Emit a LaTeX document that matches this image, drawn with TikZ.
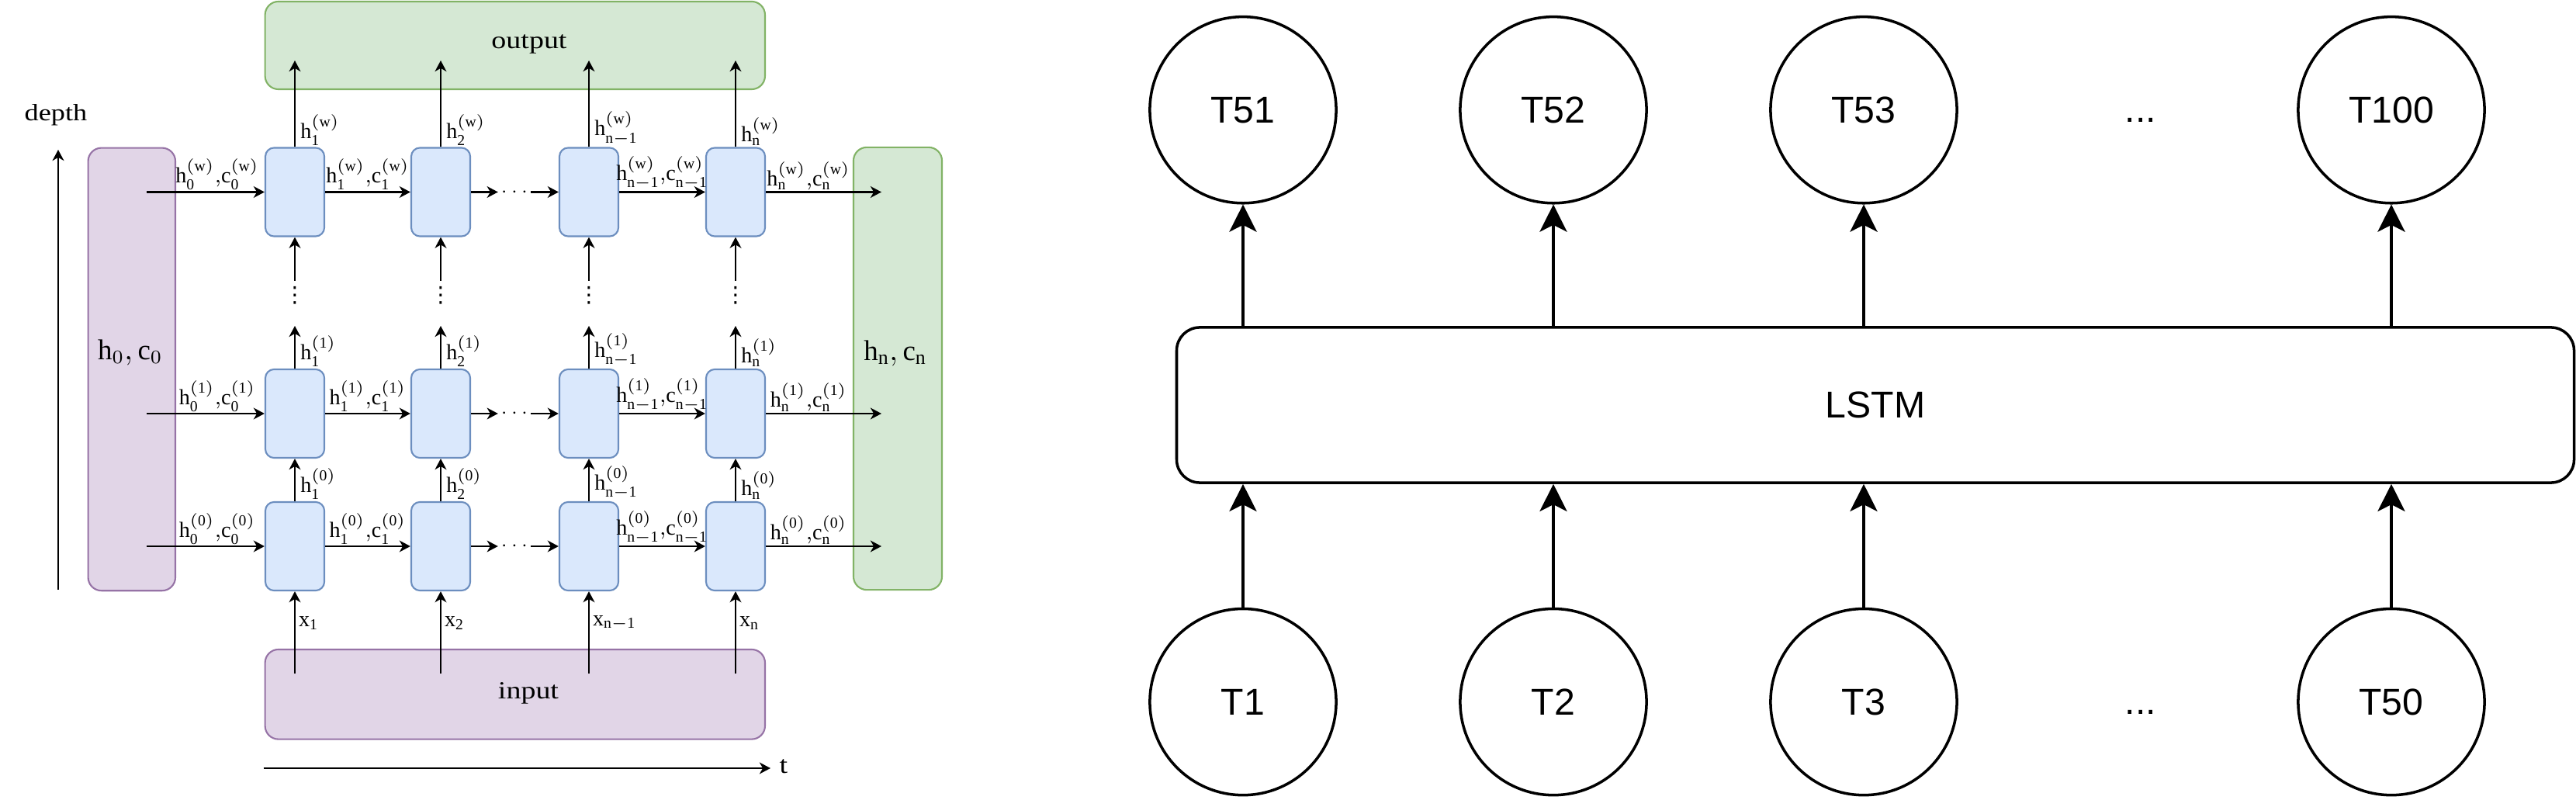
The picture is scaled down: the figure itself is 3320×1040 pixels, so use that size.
\documentclass[tikz,border=0pt]{standalone}
\usepackage{fontspec}
\setmainfont{Liberation Serif}
\newfontfamily\serifw{Liberation Serif}[FakeStretch=1.2]
\newfontfamily\sansf{Liberation Sans}
\newfontfamily\djv{DejaVu Sans}
\usetikzlibrary{arrows.meta}
\definecolor{cellfill}{HTML}{DAE8FC}
\definecolor{cellline}{HTML}{6C8EBF}
\definecolor{purfill}{HTML}{E1D5E7}
\definecolor{purline}{HTML}{9673A6}
\definecolor{grnfill}{HTML}{D5E8D4}
\definecolor{grnline}{HTML}{82B366}
\DeclareMathSizes{8}{8}{5.6}{4}
\newcommand{\LblH}[2]{$\mathrm{h}_{\mathrm{#1}}^{(\mathrm{#2})}$}
\newcommand{\LblHC}[2]{$\mathrm{h}_{\mathrm{#1}}^{(\mathrm{#2})}{,}\mathrm{c}_{\mathrm{#1}}^{(\mathrm{#2})}$}
\begin{document}
\begin{tikzpicture}[x=0.01cm,y=-0.01cm,
  lline/.style={line width=0.7pt},
  larr/.style={lline,-{Stealth[length=4pt,width=4.2pt,inset=1.2pt]}},
  cell/.style={draw=cellline,fill=cellfill,line width=0.6pt,rounded corners=3.2pt,minimum width=0.76cm,minimum height=1.14cm,inner sep=0},
  bigbox/.style={line width=0.6pt,rounded corners=4.9pt,inner sep=0},
  lbl/.style={font=\fontsize{8}{9}\selectfont,inner sep=0.4pt},
  rline/.style={line width=1pt},
  rarr/.style={rline,-{Stealth[length=10pt,width=10pt,inset=2.5pt]}},
  rtext/.style={font=\sansf\fontsize{13.7}{16}\selectfont},
  tok/.style={circle,draw,rline,minimum size=2.4cm,inner sep=0,rtext},
]
\useasboundingbox (0,0) rectangle (3320,1040);

% ---------- left diagram: boxes ----------
\node[bigbox,draw=grnline,fill=grnfill,minimum width=6.44cm,minimum height=1.13cm] (out) at (663.8,58.5) {};
\node[font=\serifw\fontsize{9}{11}\selectfont,inner sep=0] (outlbl) at (682,57) {output};
\node[bigbox,draw=purline,fill=purfill,minimum width=6.44cm,minimum height=1.156cm] (inp) at (663.8,894.8) {};
\node[font=\serifw\fontsize{9}{11}\selectfont,inner sep=0] (inplbl) at (681,893) {input};
\node[bigbox,draw=purline,fill=purfill,minimum width=1.124cm,minimum height=5.703cm] (init) at (169.8,475.9) {};
\node[font=\fontsize{10.5}{12}\selectfont,inner sep=0] (initlbl) at (168,454) {$\mathrm{h}_0{,}\,\mathrm{c}_0$};
\node[bigbox,draw=grnline,fill=grnfill,minimum width=1.14cm,minimum height=5.7cm] (fin) at (1157,475) {};
\node[font=\fontsize{10.5}{12}\selectfont,inner sep=0] (finlbl) at (1154,455) {$\mathrm{h}_\mathrm{n}{,}\,\mathrm{c}_\mathrm{n}$};

% cells
\foreach \r/\y in {w/247.5,a/533,b/704}{
  \foreach \c/\x in {1/380,2/568,3/759,4/948}{
    \node[cell] (c\r\c) at (\x,\y) {};
  }
}

% horizontal connections
\foreach \r/\y/\s in {w/247.5/w,a/533/1,b/704/0}{
  \coordinate (s\r) at (189,\y);
  \coordinate (e\r) at (1136,\y);
  \node[font=\fontsize{7}{8}\selectfont,minimum width=0.41cm,inner sep=0] (hd\r) at (663,\y) {$\cdots$};
  \draw[larr] (s\r) -- (c\r1.west) node[lbl,pos=0.6,above] {\LblHC{0}{\s}};
  \draw[larr] (c\r1.east) -- (c\r2.west) node[lbl,midway,above] {\LblHC{1}{\s}};
  \draw[larr] (c\r2.east) -- (hd\r.west);
  \draw[larr] (hd\r.east) -- (c\r3.west);
  \draw[larr] (c\r3.east) -- (c\r4.west) node[lbl,midway,above] {\LblHC{n-1}{\s}};
  \draw[larr] (c\r4.east) -- (e\r) node[lbl,pos=0.37,above] {\LblHC{n}{\s}};
}

% vertical connections
\foreach \c/\x/\sb in {1/380/1,2/568/2,3/759/n-1,4/948/n}{
  \coordinate (ow\c) at (\x,78);
  \draw[larr] (cw\c.north) -- (ow\c);
  \node[lbl,anchor=south west] (lw\c) at ([xshift=1.5]cw\c.north) {\LblH{\sb}{w}};
  \coordinate (ua\c) at (\x,420);
  \draw[larr] (ca\c.north) -- (ua\c);
  \node[lbl,anchor=south west] (la\c) at ([xshift=1.5]ca\c.north) {\LblH{\sb}{1}};
  \node[inner sep=0,font=\djv\fontsize{8}{9}\selectfont] (vd\c) at (\x,381) {⋮};
  \coordinate (ub\c) at (\x,362);
  \draw[larr] (ub\c) -- (cw\c.south);
  \draw[larr] (cb\c.north) -- (ca\c.south);
  \node[lbl,anchor=south west] (lb\c) at ([xshift=1.5]cb\c.north) {\LblH{\sb}{0}};
  \coordinate (in\c) at (\x,868);
  \draw[larr] (in\c) -- (cb\c.south);
  \node[lbl,anchor=west] (lx\c) at (\x+3,803) {$\mathrm{x}_{\mathrm{\sb}}$};
}

% axes
\coordinate (d0) at (75,760);
\coordinate (d1) at (75,193);
\draw[larr] (d0) -- (d1);
\node[font=\serifw\fontsize{8.6}{10}\selectfont,inner sep=0] (depth) at (72,148) {depth};
\coordinate (t0) at (339.5,990);
\coordinate (t1) at (993,990);
\draw[larr] (t0) -- (t1);
\node[font=\serifw\fontsize{9}{11}\selectfont,inner sep=0] (tlbl) at (1010,988) {t};

% ---------- right diagram ----------
\node[draw,rline,rounded corners=8.5pt,minimum width=18.0cm,minimum height=2.0cm,inner sep=0,rtext] (lstm) at (2417,522) {LSTM};
\node[tok] (t51) at (1602,141.7) {T51};
\node[tok] (t52) at (2002,141.7) {T52};
\node[tok] (t53) at (2402,141.7) {T53};
\node[tok] (t100) at (3082,141.7) {T100};
\node[rtext,anchor=base,inner sep=0] (tdots) at (2759,158) {...};
\node[tok] (tk1) at (1602,904.6) {T1};
\node[tok] (tk2) at (2002,904.6) {T2};
\node[tok] (tk3) at (2402,904.6) {T3};
\node[tok] (tk50) at (3082,904.6) {T50};
\node[rtext,anchor=base,inner sep=0] (bdots) at (2759,920) {...};
\foreach \n in {t51,t52,t53,t100}{
  \draw[rarr] (lstm.north -| \n) -- (\n.south);
}
\foreach \n in {tk1,tk2,tk3,tk50}{
  \draw[rarr] (\n.north) -- (\n |- lstm.south);
}
\end{tikzpicture}
\end{document}
